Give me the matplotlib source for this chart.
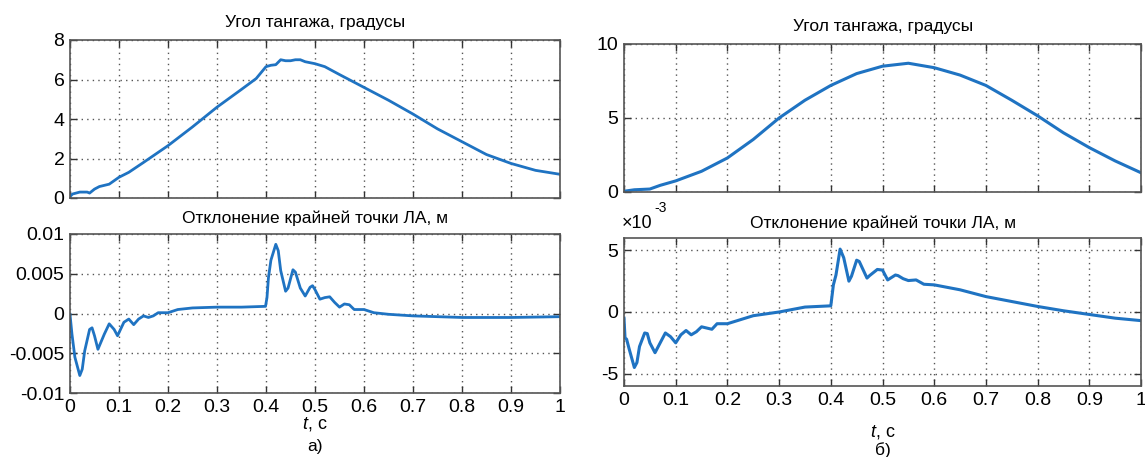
import numpy as np
import matplotlib
matplotlib.use("Agg")
import matplotlib.pyplot as plt

# ---- data ----
# panel a), pitch angle, degrees
t_pitch_a = [0, 0.005, 0.02, 0.035, 0.04, 0.05, 0.06, 0.08, 0.1, 0.12, 0.15, 0.2, 0.25, 0.3,
             0.35, 0.38, 0.4, 0.41, 0.42, 0.43, 0.44, 0.45, 0.46, 0.47, 0.48, 0.5, 0.52, 0.55,
             0.6, 0.65, 0.7, 0.75, 0.8, 0.85, 0.9, 0.95, 1.0]
pitch_a = [0.07, 0.2, 0.3, 0.3, 0.25, 0.45, 0.58, 0.7, 1.05, 1.3, 1.8, 2.65, 3.6, 4.6,
           5.5, 6.05, 6.65, 6.72, 6.75, 7.0, 6.95, 6.95, 7.0, 7.0, 6.9, 6.8, 6.65, 6.25,
           5.6, 4.95, 4.25, 3.5, 2.85, 2.2, 1.75, 1.4, 1.2]

# panel a), tip deflection, m
t_defl_a = [0, 0.004, 0.01, 0.02, 0.025, 0.03, 0.04, 0.045, 0.05, 0.057, 0.07, 0.08, 0.09,
            0.097, 0.11, 0.12, 0.13, 0.14, 0.15, 0.16, 0.17, 0.18, 0.2, 0.22, 0.25, 0.3,
            0.35, 0.399, 0.402, 0.405, 0.41, 0.42, 0.425, 0.43, 0.44, 0.445, 0.455, 0.46,
            0.47, 0.48, 0.49, 0.495, 0.5, 0.51, 0.52, 0.53, 0.54, 0.55, 0.56, 0.57, 0.58,
            0.6, 0.62, 0.65, 0.7, 0.75, 0.8, 0.9, 1.0]
defl_a = [-0.0001, -0.0026, -0.0055, -0.0078, -0.007, -0.0047, -0.002, -0.0018, -0.0028,
          -0.0045, -0.0026, -0.0013, -0.002, -0.0028, -0.0011, -0.0007, -0.0014, -0.0007,
          -0.0003, -0.0005, -0.0003, 0.0001, 0.0001, 0.0005, 0.0007, 0.0008, 0.0008,
          0.0009, 0.002, 0.0045, 0.0067, 0.0087, 0.0079, 0.0054, 0.0028, 0.0032, 0.0055,
          0.0052, 0.0032, 0.0022, 0.0033, 0.0035, 0.003, 0.0018, 0.002, 0.0021, 0.0014,
          0.0008, 0.0012, 0.0011, 0.0005, 0.0005, 0.0001, -0.0001, -0.0003, -0.0004,
          -0.0005, -0.0005, -0.0004]

# panel б), pitch angle, degrees
t_pitch_b = [0, 0.02, 0.05, 0.07, 0.1, 0.15, 0.2, 0.25, 0.3, 0.35, 0.4, 0.45, 0.5, 0.55,
             0.6, 0.65, 0.7, 0.75, 0.8, 0.85, 0.9, 0.95, 1.0]
pitch_b = [0.05, 0.15, 0.2, 0.45, 0.75, 1.4, 2.3, 3.55, 5.0, 6.2, 7.2, 8.0, 8.5, 8.7,
           8.4, 7.9, 7.2, 6.2, 5.15, 4.0, 3.0, 2.1, 1.3]

# panel б), tip deflection, x1e-3 m
t_defl_b = [0, 0.002, 0.005, 0.01, 0.02, 0.025, 0.03, 0.04, 0.045, 0.05, 0.06, 0.07, 0.08,
            0.09, 0.1, 0.11, 0.12, 0.13, 0.14, 0.15, 0.17, 0.18, 0.2, 0.25, 0.3, 0.35,
            0.4, 0.405, 0.41, 0.418, 0.425, 0.435, 0.44, 0.45, 0.455, 0.47, 0.475, 0.49,
            0.5, 0.51, 0.525, 0.53, 0.54, 0.55, 0.565, 0.58, 0.6, 0.65, 0.7, 0.75, 0.8,
            0.85, 0.9, 0.95, 1.0]
defl_b = [-0.5, -2.1, -2.2, -3.0, -4.5, -4.1, -2.8, -1.7, -1.75, -2.5, -3.3, -2.5, -1.7,
          -2.0, -2.5, -1.85, -1.5, -1.85, -1.6, -1.2, -1.4, -0.95, -0.95, -0.3, 0.0, 0.4,
          0.5, 2.2, 3.0, 5.1, 4.4, 2.5, 2.9, 4.2, 4.1, 2.75, 2.95, 3.45, 3.4, 2.6, 3.0,
          2.95, 2.7, 2.55, 2.6, 2.25, 2.2, 1.8, 1.25, 0.85, 0.45, 0.1, -0.2, -0.5, -0.7]

x_ticks = [0, 0.1, 0.2, 0.3, 0.4, 0.5, 0.6, 0.7, 0.8, 0.9, 1]
x_labels = ["0", "0.1", "0.2", "0.3", "0.4", "0.5", "0.6", "0.7", "0.8", "0.9", "1"]
y_ticks_pa = [0, 2, 4, 6, 8]
y_ticks_da = [-0.01, -0.005, 0, 0.005, 0.01]
y_labels_da = ["-0.01", "-0.005", "0", "0.005", "0.01"]
y_ticks_pb = [0, 5, 10]
y_ticks_db = [-5, 0, 5]
y_labels_db = ["-5", "0", "5"]

title_pitch = "Угол тангажа, градусы"
title_defl = "Отклонение крайней точки ЛА, м"

# ---- style ----
W, H = 1145, 457
plt.rcParams['font.family'] = ['Liberation Sans', 'DejaVu Sans']
plt.rcParams['mathtext.fontset'] = 'custom'
plt.rcParams['mathtext.it'] = 'Liberation Sans:italic'
plt.rcParams['mathtext.rm'] = 'Liberation Sans'

line_color = '#1f73c2'
tick_size = 14
title_size = 12.5

fig = plt.figure(figsize=(W / 100, H / 100), dpi=100)


def box(x0, y0, x1, y1):
    # pixel box (top-left origin) -> figure fraction rect
    return [x0 / W, 1 - y1 / H, (x1 - x0) / W, (y1 - y0) / H]


def style(ax, xt_labels):
    ax.set_xlim(0, 1)
    ax.set_xticks(x_ticks)
    if xt_labels:
        ax.set_xticklabels(x_labels)
    else:
        ax.set_xticklabels([])
    ax.tick_params(direction='in', top=True, right=True, length=5, width=1,
                   labelsize=tick_size, color='#333333', pad=4)
    ax.grid(True, color='#555555', linestyle=(0, (1, 3)), linewidth=1)
    for s in ax.spines.values():
        s.set_color('#555555')
        s.set_linewidth(1.2)


def ftext(x, y, s, **kw):
    fig.text(x / W, 1 - y / H, s, ha='center', va='center', **kw)


# panel a), top
ax1 = fig.add_axes(box(70, 40, 560, 198))
ax1.plot(t_pitch_a, pitch_a, color=line_color, lw=2)
ax1.set_ylim(0, 8)
ax1.set_yticks(y_ticks_pa)
style(ax1, False)
ftext(315, 23, title_pitch, fontsize=title_size)

# panel a), bottom
ax2 = fig.add_axes(box(70, 234, 560, 393))
ax2.plot(t_defl_a, defl_a, color=line_color, lw=2)
ax2.set_ylim(-0.01, 0.01)
ax2.set_yticks(y_ticks_da)
ax2.set_yticklabels(y_labels_da)
style(ax2, True)
ftext(315, 218, title_defl, fontsize=title_size)
ftext(315, 424, "$t$, с", fontsize=tick_size - 1)
ftext(315, 446, "а)", fontsize=title_size)

# panel б), top
ax3 = fig.add_axes(box(624, 44, 1141, 192))
ax3.plot(t_pitch_b, pitch_b, color=line_color, lw=2.2)
ax3.set_ylim(0, 10)
ax3.set_yticks(y_ticks_pb)
style(ax3, False)
ftext(883, 27, title_pitch, fontsize=title_size)

# panel б), bottom
ax4 = fig.add_axes(box(624, 238, 1141, 386))
ax4.plot(t_defl_b, defl_b, color=line_color, lw=2.2)
ax4.set_ylim(-6, 6)
ax4.set_yticks(y_ticks_db)
ax4.set_yticklabels(y_labels_db)
style(ax4, True)
ftext(883, 223, title_defl, fontsize=title_size)
fig.text(622 / W, 1 - 224 / H, "×10", ha='left', va='center', fontsize=13)
fig.text(654 / W, 1 - 208 / H, "-3", ha='left', va='center', fontsize=10)
ftext(883, 432, "$t$, с", fontsize=tick_size - 1)
ftext(883, 450, "б)", fontsize=title_size)

fig.savefig("out.png", dpi=100)
